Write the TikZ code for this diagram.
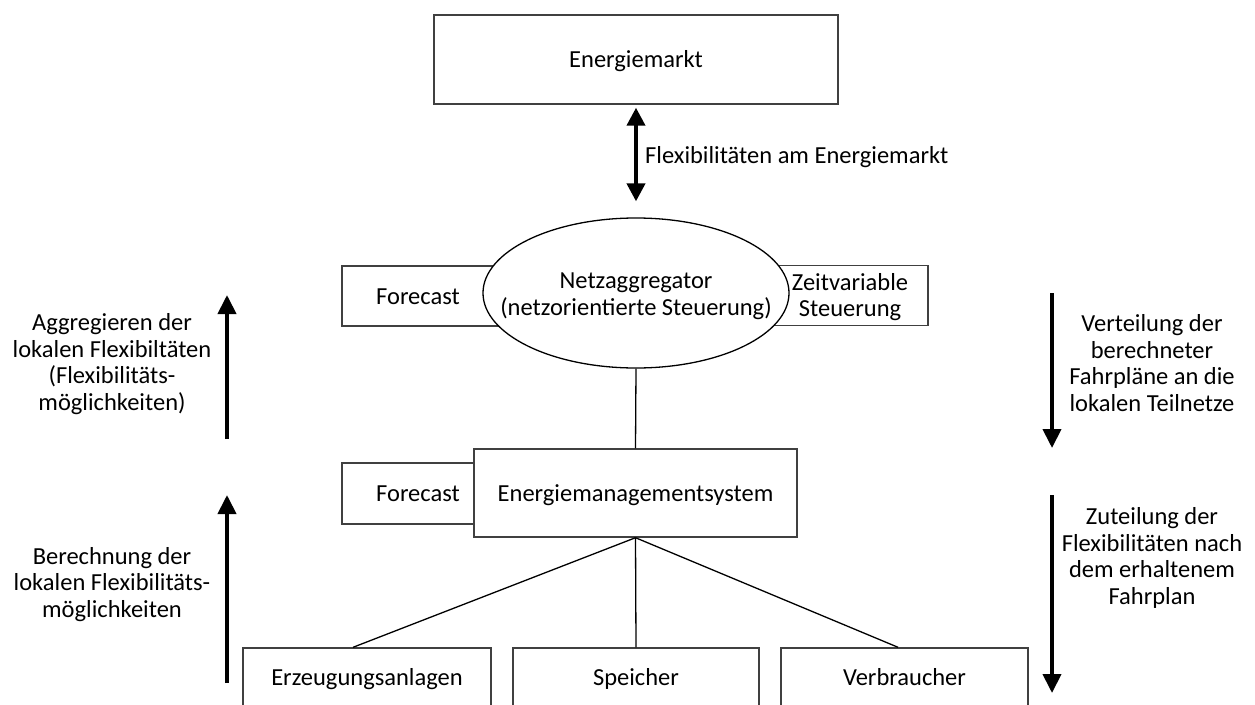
\documentclass[tikz,border=0pt]{standalone}
\usepackage{fontspec}
\setmainfont{Carlito}
\usetikzlibrary{arrows.meta,shapes.geometric,calc}
\definecolor{boxgray}{RGB}{64,64,64}
\begin{document}
\begin{tikzpicture}[x=1pt,y=-1pt,
  box/.style={draw=boxgray,line width=1.4pt,fill=white,inner sep=0pt},
  txt/.style={align=center,inner sep=0pt,font=\fontsize{24.5}{26.8}\selectfont},
  one/.style={text height=18pt,text depth=2pt},
  link/.style={draw=black,line width=1.3pt},
  bigarrow/.style={line width=4pt,-{Triangle[width=18pt,length=19pt]}},
]
\useasboundingbox (0,0) rectangle (1255,704);
\clip (0,0) rectangle (1255,704);

% top
\node[box,txt,one,minimum width=404pt,minimum height=89pt] (markt) at (636,59.5) {Energiemarkt};

% Netzaggregator level
\node[box,minimum width=218pt,minimum height=60pt] (fc1) at (451,296) {};
\node[box,minimum width=228pt,minimum height=60pt] (zv) at (814,295.5) {};
\node[draw=black,line width=1.3pt,fill=white,ellipse,minimum width=306pt,minimum height=150pt,inner sep=0pt] (agg) at (636,293) {};
\node[txt] (aggT) at (636,296) {Netzaggregator\\(netzorientierte Steuerung)};
\node[txt,one] (fc1T) at (418,296) {Forecast};
\node[txt] (zvT) at (850,297) {Zeitvariable\\Steuerung};

% EMS level
\node[box,minimum width=158pt,minimum height=61pt] (fc2) at (421,493.5) {};
\node[box,txt,one,minimum width=323pt,minimum height=88pt] (ems) at (635.5,493) {Energiemanagementsystem};
\node[txt,one] (fc2T) at (418,493) {Forecast};

% bottom level
\node[box,txt,one,minimum width=248pt,minimum height=58pt] (erz) at (367,677) {Erzeugungsanlagen};
\node[box,txt,one,minimum width=246pt,minimum height=58pt] (sp) at (636,677) {Speicher};
\node[box,txt,one,minimum width=247pt,minimum height=58pt] (vb) at (904.5,677) {Verbraucher};

% connectors
\draw[link] (agg.south) -- (ems.north);
\draw[link] (ems.south) -- ($(erz.north west)!0.444!(erz.north east)$);
\draw[link] (ems.south) -- (sp.north);
\draw[link] (ems.south) -- ($(vb.north west)!0.474!(vb.north east)$);

% market arrow
\draw[line width=4pt,{Triangle[width=18pt,length=18pt]}-{Triangle[width=18pt,length=18pt]},shorten <=3pt,shorten >=16pt] (markt.south) -- (agg.north);
\node[txt,one,anchor=west] (flexT) at (645,155) {Flexibilitäten am Energiemarkt};

% side arrows
\coordinate (l1s) at (227,439); \coordinate (l1e) at (227,295);
\coordinate (l2s) at (227,683); \coordinate (l2e) at (227,495);
\coordinate (r1s) at (1052,293); \coordinate (r1e) at (1052,448);
\coordinate (r2s) at (1052,495); \coordinate (r2e) at (1052,693);
\draw[bigarrow] (l1s) -- (l1e);
\draw[bigarrow] (l2s) -- (l2e);
\draw[bigarrow] (r1s) -- (r1e);
\draw[bigarrow] (r2s) -- (r2e);

% side labels
\node[txt] (aggL) at (112,364) {Aggregieren der\\lokalen Flexibiltäten\\(Flexibilitäts-\\möglichkeiten)};
\node[txt] (berL) at (112,584.5) {Berechnung der\\lokalen Flexibilitäts-\\möglichkeiten};
\node[txt] (verL) at (1152,363) {Verteilung der\\berechneter\\Fahrpläne an die\\lokalen Teilnetze};
\node[txt] (zutL) at (1152,558) {Zuteilung der\\Flexibilitäten nach\\dem erhaltenem\\Fahrplan};
\end{tikzpicture}
\end{document}
